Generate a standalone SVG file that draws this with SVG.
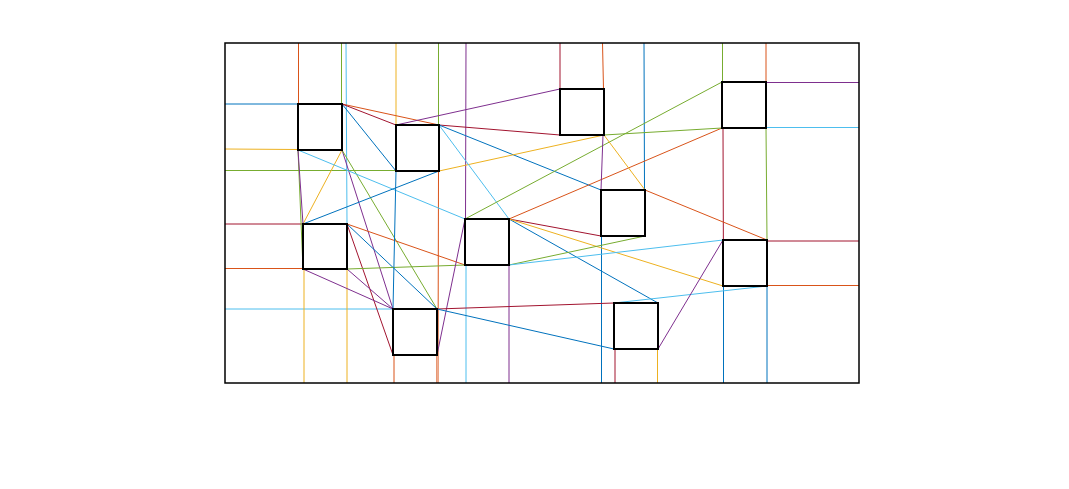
<svg xmlns="http://www.w3.org/2000/svg" width="1069" height="489" viewBox="0 0 1069 489">
<style>
.b{stroke:#0072BD}.o{stroke:#D95319}.y{stroke:#EDB120}.p{stroke:#7E2F8E}.g{stroke:#77AC30}.c{stroke:#4DBEEE}.r{stroke:#A2142F}
#edges line{stroke-width:1;fill:none}
.node rect{fill:none;stroke:#000;stroke-width:2}
</style>
<rect x="0" y="0" width="1069" height="489" fill="#fff"/>
<g id="edges">
<line class="o" x1="298.5" y1="43" x2="298.5" y2="104"/>
<line class="g" x1="341.5" y1="43" x2="341.5" y2="104"/>
<line class="c" x1="346" y1="43" x2="347" y2="224"/>
<line class="y" x1="396" y1="43" x2="396" y2="125"/>
<line class="g" x1="438.5" y1="43" x2="438.5" y2="125"/>
<line class="p" x1="466" y1="43" x2="465.5" y2="219"/>
<line class="r" x1="560" y1="43" x2="560" y2="89"/>
<line class="o" x1="602.5" y1="43" x2="603.5" y2="89"/>
<line class="b" x1="644" y1="43" x2="644.5" y2="190"/>
<line class="g" x1="722.5" y1="43" x2="722.5" y2="82"/>
<line class="o" x1="766" y1="43" x2="766" y2="128"/>
<line class="b" x1="225" y1="104" x2="298" y2="104"/>
<line class="y" x1="225" y1="149" x2="298" y2="149.5"/>
<line class="g" x1="225" y1="170.5" x2="396" y2="170.5"/>
<line class="r" x1="225" y1="224" x2="303" y2="224"/>
<line class="o" x1="225" y1="268.5" x2="303" y2="268.5"/>
<line class="c" x1="225" y1="309" x2="393" y2="309"/>
<line class="y" x1="304" y1="269" x2="304" y2="383"/>
<line class="y" x1="347" y1="269" x2="347" y2="383"/>
<line class="o" x1="394" y1="355" x2="394" y2="383"/>
<line class="o" x1="438.5" y1="171" x2="438" y2="383"/>
<line class="o" x1="436.5" y1="355" x2="436.5" y2="383" style="opacity:.6"/>
<line class="c" x1="466" y1="265" x2="466" y2="383"/>
<line class="p" x1="509" y1="265" x2="509" y2="383"/>
<line class="b" x1="601.5" y1="236" x2="601.5" y2="383"/>
<line class="r" x1="615" y1="349" x2="615" y2="383"/>
<line class="y" x1="657.5" y1="349" x2="657.5" y2="383"/>
<line class="r" x1="723" y1="128" x2="723.5" y2="286"/>
<line class="b" x1="723.5" y1="286" x2="723.5" y2="383"/>
<line class="b" x1="767" y1="286" x2="767" y2="383"/>
<line class="p" x1="766" y1="82.5" x2="859" y2="82.5"/>
<line class="c" x1="766" y1="127.5" x2="859" y2="127.5"/>
<line class="r" x1="767" y1="241" x2="859" y2="241"/>
<line class="o" x1="767" y1="285.5" x2="859" y2="285.5"/>
<line class="o" x1="342" y1="104" x2="439" y2="125"/>
<line class="r" x1="342" y1="104" x2="396" y2="125"/>
<line class="b" x1="342" y1="104" x2="396" y2="171"/>
<line class="y" x1="342" y1="150" x2="303" y2="224"/>
<line class="p" x1="342" y1="150" x2="393" y2="309"/>
<line class="g" x1="342" y1="150" x2="437" y2="309"/>
<line class="c" x1="298" y1="150" x2="465" y2="219"/>
<line class="g" x1="298" y1="150" x2="303" y2="269"/>
<line class="p" x1="298" y1="150" x2="303" y2="224"/>
<line class="b" x1="303" y1="224" x2="439" y2="171"/>
<line class="b" x1="347" y1="224" x2="437" y2="309"/>
<line class="r" x1="347" y1="224" x2="393" y2="355"/>
<line class="o" x1="347" y1="224" x2="465" y2="265"/>
<line class="g" x1="347" y1="269" x2="465" y2="265"/>
<line class="p" x1="347" y1="269" x2="393" y2="309"/>
<line class="p" x1="303" y1="269" x2="393" y2="309"/>
<line class="b" x1="396" y1="171" x2="393" y2="309"/>
<line class="p" x1="396" y1="125" x2="560" y2="89"/>
<line class="r" x1="439" y1="125" x2="560" y2="135"/>
<line class="b" x1="439" y1="125" x2="601" y2="190"/>
<line class="y" x1="439" y1="171" x2="604" y2="135"/>
<line class="c" x1="439" y1="125" x2="509" y2="219"/>
<line class="p" x1="437" y1="355" x2="465" y2="219"/>
<line class="r" x1="437" y1="309" x2="614" y2="303"/>
<line class="b" x1="437" y1="309" x2="614" y2="349"/>
<line class="g" x1="465" y1="219" x2="722" y2="82"/>
<line class="o" x1="509" y1="219" x2="722" y2="128"/>
<line class="r" x1="509" y1="219" x2="601" y2="236"/>
<line class="b" x1="509" y1="219" x2="658" y2="303"/>
<line class="y" x1="509" y1="219" x2="723" y2="286"/>
<line class="g" x1="509" y1="265" x2="645" y2="236"/>
<line class="c" x1="509" y1="265" x2="723" y2="240"/>
<line class="y" x1="604" y1="135" x2="645" y2="190"/>
<line class="p" x1="603" y1="135" x2="601" y2="190"/>
<line class="g" x1="604" y1="135" x2="722" y2="128"/>
<line class="o" x1="645" y1="190" x2="767" y2="240"/>
<line class="c" x1="614" y1="303" x2="767" y2="286"/>
<line class="p" x1="658" y1="349" x2="723" y2="240"/>
<line class="g" x1="766" y1="128" x2="767" y2="240"/>
</g>
<rect x="225" y="43" width="634" height="340" fill="none" stroke="#000" stroke-width="1.5"/>
<g id="n1" class="node"><rect x="298" y="104" width="44" height="46"/></g>
<g id="n2" class="node"><rect x="396" y="125" width="43" height="46"/></g>
<g id="n3" class="node"><rect x="303" y="224" width="44" height="45"/></g>
<g id="n4" class="node"><rect x="393" y="309" width="44" height="46"/></g>
<g id="n5" class="node"><rect x="465" y="219" width="44" height="46"/></g>
<g id="n6" class="node"><rect x="560" y="89" width="44" height="46"/></g>
<g id="n7" class="node"><rect x="601" y="190" width="44" height="46"/></g>
<g id="n8" class="node"><rect x="614" y="303" width="44" height="46"/></g>
<g id="n9" class="node"><rect x="722" y="82" width="44" height="46"/></g>
<g id="n10" class="node"><rect x="723" y="240" width="44" height="46"/></g>
</svg>
